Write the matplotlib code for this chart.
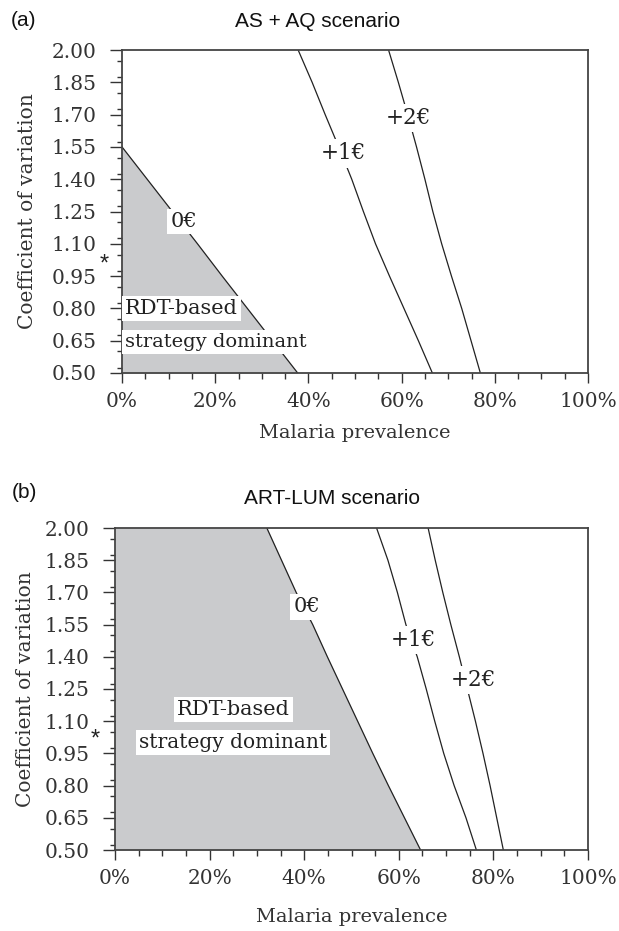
import matplotlib
matplotlib.use("Agg")
import matplotlib.pyplot as plt
from matplotlib.ticker import MultipleLocator, FuncFormatter

# ---------------- data ----------------
cv_grid = [2.00, 1.85, 1.70, 1.55, 1.40, 1.25, 1.10, 0.95, 0.80, 0.65, 0.50]
cv_ticks = [0.50, 0.65, 0.80, 0.95, 1.10, 1.25, 1.40, 1.55, 1.70, 1.85, 2.00]
prev_ticks = [0, 20, 40, 60, 80, 100]

# Panel (a) AS+AQ: prevalence (%) of iso-cost contours at each CV
a_zero_cv = [1.55, 1.40, 1.25, 1.10, 0.95, 0.80, 0.65, 0.50]
a_zero = [0.0, 5.4, 10.8, 16.2, 21.5, 26.9, 32.3, 37.7]
a_plus1 = [37.8, 40.8, 43.6, 46.5, 49.3, 51.8, 54.4, 57.4, 60.5, 63.6, 66.6]
a_plus2 = [57.2, 59.3, 61.3, 63.2, 65.0, 66.7, 68.6, 70.7, 72.9, 74.9, 76.9]

# Panel (b) ART-LUM
b_zero = [32.1, 35.2, 38.3, 41.8, 44.9, 48.1, 51.3, 54.5, 57.8, 61.2, 64.6]
b_plus1 = [55.3, 57.7, 59.7, 61.5, 63.9, 65.8, 67.6, 69.5, 71.7, 74.2, 76.4]
b_plus2 = [66.2, 67.7, 69.3, 71.0, 72.8, 74.5, 76.2, 77.8, 79.3, 80.7, 82.1]

contour_labels = ["0€", "+1€", "+2€"]
panel_titles = ["AS + AQ scenario", "ART-LUM scenario"]
panel_tags = ["(a)", "(b)"]

GRAY = "#cacbcd"
LINE = "#222222"
SERIF = "DejaVu Serif"
SANS = "Liberation Sans"

fig = plt.figure(figsize=(6.19, 9.31), dpi=100)
ax_a = fig.add_axes([122 / 619, 1 - 373 / 931, (588 - 122) / 619, 323 / 931])
ax_b = fig.add_axes([115 / 619, 1 - 850 / 931, (588 - 115) / 619, 322 / 931])


def style_axis(ax, ylab_x, xlab_y):
    ax.set_xlim(0, 100)
    ax.set_ylim(0.50, 2.00)
    ax.set_yticks(cv_ticks)
    ax.set_xticks(prev_ticks)
    ax.yaxis.set_minor_locator(MultipleLocator(0.075))
    ax.xaxis.set_minor_locator(MultipleLocator(5))
    ax.yaxis.set_major_formatter(FuncFormatter(lambda v, p: f"{v:.2f}"))
    ax.xaxis.set_major_formatter(FuncFormatter(lambda v, p: f"{v:.0f}%"))
    ax.tick_params(axis="y", which="major", length=8.5, width=1.0, pad=10,
                   labelsize=14.5, colors="#333333", direction="out")
    ax.tick_params(axis="y", which="minor", length=3.5, width=1.0,
                   colors="#333333", direction="out")
    ax.tick_params(axis="x", which="major", length=7, width=1.0, pad=7,
                   labelsize=14.5, colors="#333333", direction="out")
    ax.tick_params(axis="x", which="minor", length=4, width=1.0,
                   colors="#333333", direction="out")
    for lab in ax.get_xticklabels() + ax.get_yticklabels():
        lab.set_fontfamily(SERIF)
    for s in ax.spines.values():
        s.set_color("#444444")
        s.set_linewidth(1.3)
    ax.set_ylabel("Coefficient of variation", fontsize=14.5, family=SERIF,
                  color="#333333", va="center")
    ax.yaxis.set_label_coords(ylab_x, 0.5)
    ax.set_xlabel("Malaria prevalence", fontsize=14, family=SERIF,
                  color="#333333", va="center")
    ax.xaxis.set_label_coords(0.5, xlab_y)


def label(ax, x, y, s, ha="center", size=14):
    ax.text(x, y, s, ha=ha, va="center", fontsize=size, family=SERIF,
            color="#222222", zorder=5,
            bbox=dict(boxstyle="square,pad=0.15", fc="white", ec="none"))


# ---------------- panel (a) ----------------
ax = ax_a
ax.fill_betweenx(a_zero_cv, 0, a_zero, color=GRAY, lw=0, zorder=1)
ax.plot(a_zero, a_zero_cv, color=LINE, lw=0.9, zorder=2)
ax.plot(a_plus1, cv_grid, color=LINE, lw=0.9, zorder=2)
ax.plot(a_plus2, cv_grid, color=LINE, lw=0.9, zorder=2)
label(ax, 13.2, 1.205, contour_labels[0], size=15)
label(ax, 47.5, 1.52, contour_labels[1], size=15.5)
label(ax, 61.4, 1.683, contour_labels[2], size=15.5)
label(ax, 0.6, 0.80, "RDT-based", ha="left", size=15)
label(ax, 0.6, 0.645, "strategy dominant", ha="left", size=14)
style_axis(ax, -0.202, -0.186)
ax.text(-0.039, 1.005, "*", transform=ax.get_yaxis_transform(), ha="center",
        va="center", fontsize=17, family=SANS, color="#222222")

# ---------------- panel (b) ----------------
ax = ax_b
ax.fill_betweenx(cv_grid, 0, b_zero, color=GRAY, lw=0, zorder=1)
ax.plot(b_zero, cv_grid, color=LINE, lw=0.9, zorder=2)
ax.plot(b_plus1, cv_grid, color=LINE, lw=0.9, zorder=2)
ax.plot(b_plus2, cv_grid, color=LINE, lw=0.9, zorder=2)
label(ax, 40.5, 1.632, contour_labels[0], size=15)
label(ax, 63.1, 1.477, contour_labels[1], size=15.5)
label(ax, 75.8, 1.291, contour_labels[2], size=15.5)
label(ax, 25.0, 1.155, "RDT-based", size=15)
label(ax, 25.0, 1.000, "strategy dominant", size=14.5)
style_axis(ax, -0.19, -0.208)
ax.text(-0.042, 1.015, "*", transform=ax.get_yaxis_transform(), ha="center",
        va="center", fontsize=17, family=SANS, color="#222222")

# ---------------- titles ----------------
fig.text(318 / 619, 1 - 21.5 / 931, panel_titles[0], ha="center", va="center",
         fontsize=15, family=SANS, color="#111111")
fig.text(23 / 619, 1 - 21 / 931, panel_tags[0], ha="center", va="center",
         fontsize=15, family=SANS, color="#111111")
fig.text(332 / 619, 1 - 499 / 931, panel_titles[1], ha="center", va="center",
         fontsize=15, family=SANS, color="#111111")
fig.text(24 / 619, 1 - 493 / 931, panel_tags[1], ha="center", va="center",
         fontsize=15, family=SANS, color="#111111")

fig.savefig("out.png", dpi=100, facecolor="white")
